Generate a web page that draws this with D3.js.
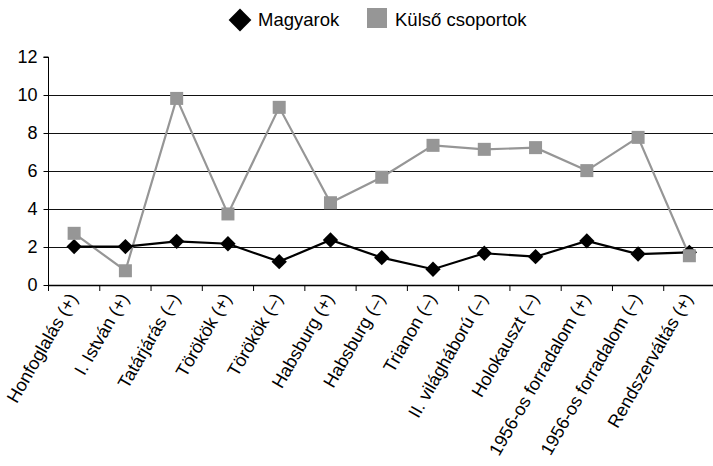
<!DOCTYPE html>
<html><head><meta charset="utf-8">
<script src="https://cdn.jsdelivr.net/npm/d3@7"></script>
<style>body{margin:0;background:#fff}svg{display:block;font-family:"Liberation Sans",Arial,sans-serif}</style>
</head><body><svg id="c" width="713" height="466"></svg>
<script>
const categories = ["Honfoglalás (+)","I. István (+)","Tatárjárás (–)","Törökök (+)","Törökök (–)","Habsburg (+)","Habsburg (–)","Trianon (–)","II. világháború (–)","Holokauszt (–)","1956-os forradalom (+)","1956-os forradalom (–)","Rendszerváltás (+)"];
const magyarok = [2.02,2.02,2.3,2.17,1.23,2.37,1.44,0.83,1.67,1.49,2.32,1.63,1.72];
const kulso = [2.72,0.75,9.82,3.74,9.35,4.33,5.67,7.35,7.14,7.23,6.02,7.77,1.54];
const yTicks = [0,2,4,6,8,10,12];
const seriesNames = ["Magyarok","Külső csoportok"];

const svg = d3.select("#c");
const L = 48.5, R = 715, T = 57, B = 285;
const x = d3.scaleBand().domain(categories).range([L, R]);
const y = d3.scaleLinear().domain([0, 12]).range([B, T]);

// gridlines
svg.append("g").selectAll("line").data(yTicks.filter(d => d > 0 && d < 12)).join("line")
  .attr("x1", L).attr("x2", R).attr("y1", d => Math.round(y(d)) + 0.5).attr("y2", d => Math.round(y(d)) + 0.5)
  .attr("stroke", "#111").attr("stroke-width", 1);

// y axis
const ya = svg.append("g").attr("transform", `translate(${L},0)`)
  .call(d3.axisLeft(y).tickValues(yTicks).tickSize(5).tickPadding(6).tickFormat(d3.format("d")));
ya.select(".domain").attr("stroke", "#000").attr("d", `M-5,${T}H0V${B}`);
ya.selectAll("text").attr("font-size", 18).attr("fill", "#000").attr("font-family", "Liberation Sans, Arial, sans-serif");
ya.selectAll(".tick line").attr("stroke", "#000");

// x axis line and ticks at boundaries
svg.append("line").attr("x1", L).attr("x2", R).attr("y1", B + 0.5).attr("y2", B + 0.5).attr("stroke", "#000").attr("stroke-width", 1.5);
svg.append("g").selectAll("line").data(categories).join("line")
  .attr("x1", d => x(d)).attr("x2", d => x(d)).attr("y1", B).attr("y2", B + 6).attr("stroke", "#000");

// x labels
svg.append("g").selectAll("text").data(categories).join("text")
  .attr("transform", d => `translate(${x(d) + x.bandwidth() / 2 + 4},${B + 13}) rotate(-60)`)
  .attr("text-anchor", "end").attr("font-size", 18).attr("fill", "#000").text(d => d);

const cx = d => x(d) + x.bandwidth() / 2;
const line = vals => d3.line().x((v, i) => cx(categories[i])).y(v => y(v))(vals);

// Külső line (under) then Magyarok
svg.append("path").attr("d", line(kulso)).attr("fill", "none").attr("stroke", "#969696").attr("stroke-width", 2.2);
svg.append("path").attr("d", line(magyarok)).attr("fill", "none").attr("stroke", "#000").attr("stroke-width", 2.2);

const diamond = d3.symbol().type(d3.symbolDiamond2).size(150);
svg.append("g").selectAll("path").data(magyarok).join("path")
  .attr("d", diamond).attr("transform", (v, i) => `translate(${cx(categories[i])},${y(v)})`)
  .attr("fill", "#000");
svg.append("g").selectAll("rect").data(kulso).join("rect")
  .attr("x", (v, i) => cx(categories[i]) - 6.5).attr("y", v => y(v) - 6.5)
  .attr("width", 13).attr("height", 13).attr("fill", "#969696");

// legend
const lg = svg.append("g");
lg.append("path").attr("d", d3.symbol().type(d3.symbolDiamond2).size(330)).attr("transform", "translate(240,20)").attr("fill", "#000");
lg.append("text").attr("x", 258).attr("y", 26).attr("font-size", 18.5).text(seriesNames[0]);
lg.append("rect").attr("x", 367).attr("y", 8).attr("width", 20).attr("height", 20).attr("fill", "#969696");
lg.append("text").attr("x", 395).attr("y", 26).attr("font-size", 18.5).text(seriesNames[1]);
</script></body></html>
